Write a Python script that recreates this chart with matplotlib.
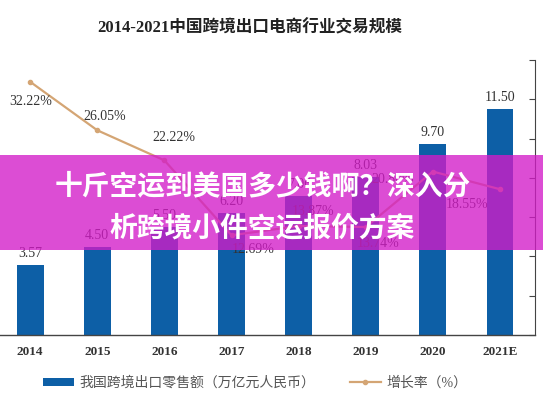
import matplotlib
matplotlib.use("Agg")
import matplotlib.pyplot as plt
from matplotlib.patches import Patch, Rectangle
from matplotlib.lines import Line2D

years = ["2014", "2015", "2016", "2017", "2018", "2019", "2020", "2021E"]
sales = [3.57, 4.50, 5.50, 6.20, 7.06, 8.03, 9.70, 11.50]
growth = [32.22, 26.05, 22.22, 12.69, 13.87, 13.74, 20.80, 18.55]
growth_offsets = [(0, -20), (7, 14), (9, 23), (22, -14), (14, 14), (12, -16), (-40, -8), (-33, -15)]

title = "2014-2021中国跨境出口电商行业交易规模"
bar_label = "我国跨境出口零售额（万亿元人民币）"
line_label = "增长率（%）"
banner_lines = ["十斤空运到美国多少钱啊？深入分", "析跨境小件空运报价方案"]

serif = ["Liberation Serif", "Noto Sans CJK SC"]
plt.rcParams["font.family"] = serif

bar_color = "#0d5fa6"
line_color = "#d4a574"
text_color = "#333333"

fig = plt.figure(figsize=(5.43, 4.08), dpi=100)
ax = fig.add_axes([0.0, 0.179, 0.985, 0.674])
x = list(range(len(years)))

bars = ax.bar(x, sales, width=0.4, color=bar_color, zorder=2)
for xi, v in zip(x, sales):
    ax.annotate(f"{v:.2f}", (xi, v), xytext=(0, 5), textcoords="offset pixels",
                ha="center", va="bottom", fontsize=10, color=text_color)

ax.set_xlim(-0.45, 7.52)
ax.set_ylim(0, 14.0)
ax.set_xticks(x)
ax.set_xticklabels(years, fontsize=9.5, fontweight="bold", color=text_color)
ax.tick_params(axis="x", length=0, pad=8)
ax.set_yticks([])
for s in ["top", "left", "right"]:
    ax.spines[s].set_visible(False)
ax.spines["bottom"].set_color("#444444")
ax.spines["bottom"].set_linewidth(1.0)

ax2 = ax.twinx()
ax2.plot(x, growth, color=line_color, lw=1.6, marker="o", ms=3, zorder=3)
for xi, g, (dx, dy) in zip(x, growth, growth_offsets):
    ax2.annotate(f"{g:.2f}%", (xi, g), xytext=(dx, dy), textcoords="offset pixels",
                 ha="center", va="center", fontsize=10, color=text_color)
ax2.set_ylim(0, 35)
ax2.set_yticks([0, 5, 10, 15, 20, 25, 30, 35])
ax2.tick_params(axis="y", direction="in", length=4, labelright=False, color="#444444")
for s in ["top", "left", "bottom"]:
    ax2.spines[s].set_visible(False)
ax2.spines["right"].set_color("#444444")

fig.text(0.46, 0.931, title, ha="center", va="center", fontsize=12,
         fontweight="bold", color="#222222")

handles = [Patch(facecolor=bar_color, edgecolor="none"),
           Line2D([0], [0], color=line_color, lw=1.6, marker="o", ms=3)]
fig.legend(handles, [bar_label, line_label], loc="center", bbox_to_anchor=(0.47, 0.061),
           ncol=2, frameon=False, fontsize=10, labelcolor="#555555",
           handlelength=2.2, handleheight=0.5, columnspacing=2.5, handletextpad=0.4)

# magenta banner over the chart
fig.patches.append(Rectangle((0, 0.387), 1, 0.233, transform=fig.transFigure,
                             facecolor="#d31bc8", alpha=0.78, edgecolor="none", zorder=10))
fig.text(0.483, 0.544, banner_lines[0], ha="center", va="center", fontsize=20,
         fontweight="bold", color="white", family=["Noto Sans CJK SC", "DejaVu Sans"], zorder=11)
fig.text(0.483, 0.441, banner_lines[1], ha="center", va="center", fontsize=20,
         fontweight="bold", color="white", family=["Noto Sans CJK SC", "DejaVu Sans"], zorder=11)

fig.savefig("out.png", dpi=100)
